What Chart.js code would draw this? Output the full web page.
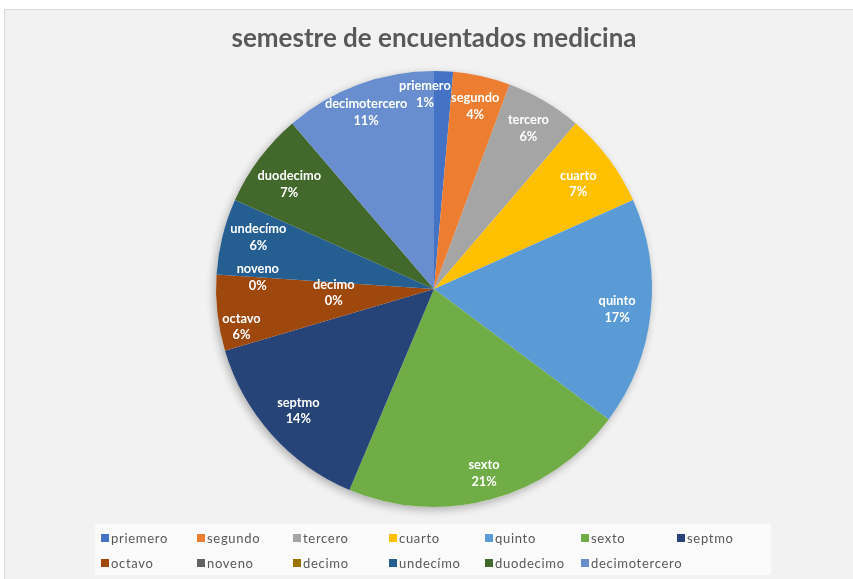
<!DOCTYPE html>
<html>
<head>
<meta charset="utf-8">
<script src="https://cdn.jsdelivr.net/npm/chart.js@4.4.1/dist/chart.umd.min.js"></script>
<style>
  html, body { margin: 0; padding: 0; background: #ffffff; }
  canvas { display: block; }
</style>
</head>
<body>
<canvas id="c" width="853" height="579"></canvas>
<script>
// ---- data ----
const chartTitle = "semestre de encuentados medicina";
const categories = ["priemero", "segundo", "tercero", "cuarto", "quinto", "sexto", "septmo",
                    "octavo", "noveno", "decimo", "undecimo", "duodecimo", "decimotercero"];
const legendNames = ["priemero", "segundo", "tercero", "cuarto", "quinto", "sexto", "septmo",
                     "octavo", "noveno", "decimo", "undecímo", "duodecimo", "decimotercero"];
const labelNames = ["priemero", "segundo", "tercero", "cuarto", "quinto", "sexto", "septmo",
                    "octavo", "noveno", "decimo", "undecímo", "duodecimo", "decimotercero"];
const counts = [1, 3, 4, 5, 12, 15, 10, 4, 0, 0, 4, 5, 8];
const sliceColors = ["#4472C4", "#ED7D31", "#A5A5A5", "#FFC000", "#5B9BD5", "#70AD47", "#264478",
                     "#9E480E", "#636363", "#997300", "#255E91", "#43682B", "#698ED0"];

// label placement (fraction of radius, angular shift in degrees) — text layout only
const labelRadius = [0.895, 0.86, 0.855, 0.82, 0.845, 0.875, 0.835, 0.90, 0.81, 0.46, 0.84, 0.82, 0.87];
const labelShift  = [-5.2, 0, 0, 0.6, 0, 0, 0, -4.7, 0, -6, 2.5, -0.8, -0.7];

const FONT = "Lato, Carlito, 'Open Sans', sans-serif";

const bgPlugin = {
  id: 'bg',
  beforeDraw(chart) {
    const ctx = chart.ctx;
    ctx.save();
    ctx.fillStyle = '#ffffff';
    ctx.fillRect(0, 0, chart.width, chart.height);
    ctx.fillStyle = '#f2f2f2';
    ctx.fillRect(4, 9, chart.width, chart.height);
    ctx.strokeStyle = '#d9d9d9';
    ctx.lineWidth = 1;
    ctx.beginPath();
    ctx.moveTo(4.5, chart.height + 2);
    ctx.lineTo(4.5, 9.5);
    ctx.lineTo(chart.width + 2, 9.5);
    ctx.stroke();
    // legend backdrop
    ctx.fillStyle = '#fbfbfb';
    ctx.fillRect(95, 524, 676, 51);
    ctx.restore();
  },
  beforeDatasetsDraw(chart) {
    const arc = chart.getDatasetMeta(0).data[0];
    if (!arc) return;
    const ctx = chart.ctx;
    ctx.save();
    ctx.shadowColor = 'rgba(0,0,0,0.28)';
    ctx.shadowBlur = 9;
    ctx.shadowOffsetX = -2;
    ctx.shadowOffsetY = 3;
    ctx.fillStyle = '#f2f2f2';
    ctx.beginPath();
    ctx.arc(arc.x, arc.y, arc.outerRadius, 0, Math.PI * 2);
    ctx.fill();
    ctx.restore();
  }
};

const labelPlugin = {
  id: 'sliceLabels',
  afterDatasetsDraw(chart) {
    const ctx = chart.ctx;
    const ds = chart.data.datasets[0];
    const total = ds.data.reduce((a, b) => a + b, 0);
    const meta = chart.getDatasetMeta(0);
    ctx.save();
    ctx.fillStyle = '#ffffff';
    ctx.font = "bold 12.8px " + FONT;
    ctx.textAlign = 'center';
    ctx.textBaseline = 'middle';
    meta.data.forEach((arc, i) => {
      const mid = (arc.startAngle + arc.endAngle) / 2 + labelShift[i] * Math.PI / 180;
      const r = arc.outerRadius * labelRadius[i];
      const x = arc.x + Math.cos(mid) * r;
      const y = arc.y + Math.sin(mid) * r;
      const pct = Math.round(ds.data[i] / total * 100) + '%';
      ctx.fillText(labelNames[i], x, y - 8);
      ctx.fillText(pct, x, y + 8.5);
    });
    ctx.restore();
  }
};

const legendPlugin = {
  id: 'gridLegend',
  afterDraw(chart) {
    const ctx = chart.ctx;
    ctx.save();
    ctx.font = "13px " + FONT;
    try { ctx.letterSpacing = '0.7px'; } catch (e) {}
    ctx.textBaseline = 'middle';
    ctx.textAlign = 'left';
    const colW = 96, x0 = 101, rows = [538, 563], perRow = 7;
    legendNames.forEach((name, i) => {
      const row = Math.floor(i / perRow), col = i % perRow;
      const x = x0 + col * colW, y = rows[row];
      ctx.fillStyle = sliceColors[i];
      ctx.fillRect(x, y - 4, 8, 8);
      ctx.fillStyle = '#595959';
      ctx.fillText(name, x + 10, y + 0.5);
    });
    ctx.restore();
  }
};

new Chart(document.getElementById('c'), {
  type: 'pie',
  data: {
    labels: categories,
    datasets: [{
      data: counts,
      backgroundColor: sliceColors,
      borderWidth: 0
    }]
  },
  options: {
    responsive: false,
    animation: false,
    devicePixelRatio: 1,
    layout: { padding: { top: 19, bottom: 72, left: 216, right: 201 } },
    plugins: {
      legend: { display: false },
      tooltip: { enabled: false },
      title: {
        display: true,
        text: chartTitle,
        color: '#595959',
        font: { family: FONT, size: 26, weight: 'bold', lineHeight: 1.1 },
        padding: { top: 5, bottom: 18.4 }
      }
    }
  },
  plugins: [bgPlugin, labelPlugin, legendPlugin]
});
</script>
</body>
</html>
